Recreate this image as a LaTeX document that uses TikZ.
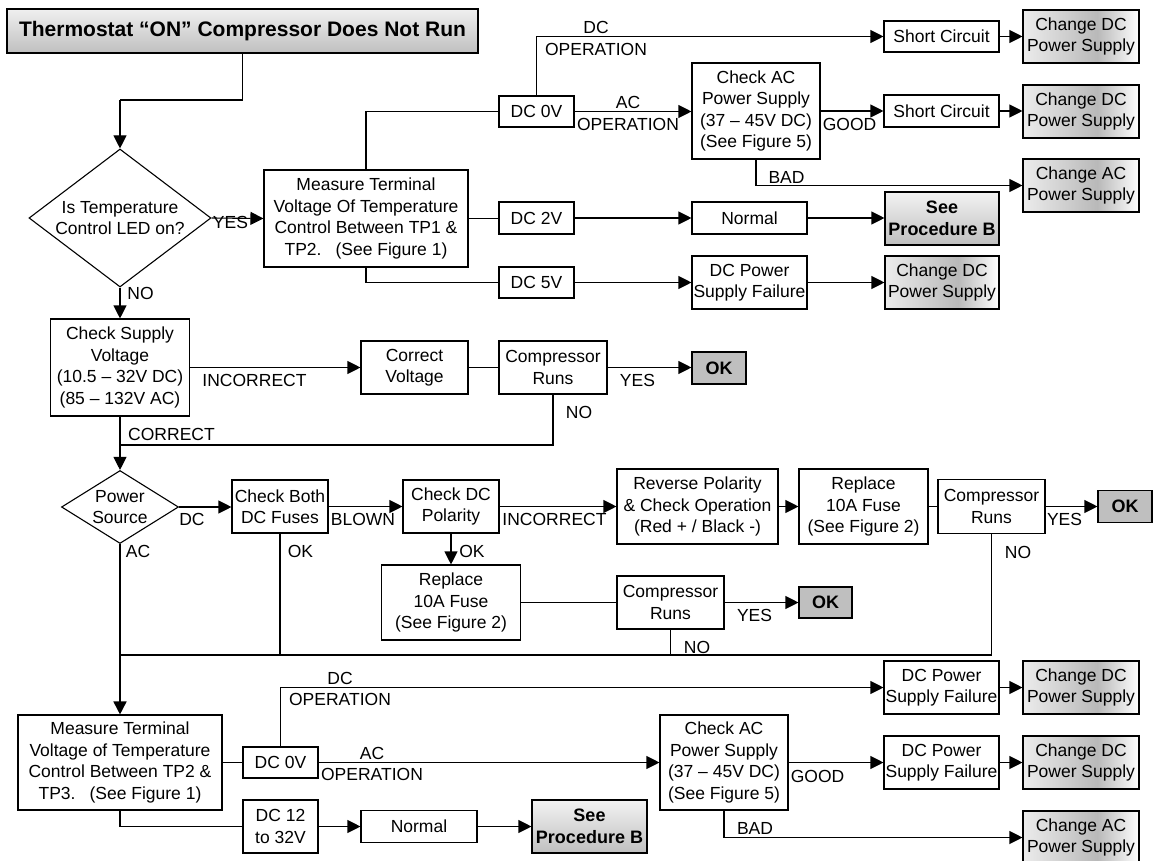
\documentclass[tikz,border=0pt]{standalone}
\usepackage{fontspec}
\setmainfont{Liberation Sans}
\usetikzlibrary{arrows.meta,shapes.geometric}
\pgfdeclarehorizontalshading{chgshade}{100bp}{color(0bp)=(gray!15); color(25bp)=(gray!15); color(57bp)=(gray!55); color(75bp)=(white); color(100bp)=(white)}
\begin{document}
\begin{tikzpicture}[x=1pt,y=-1pt,
  every node/.style={font=\fontsize{17.5}{21.5}\selectfont, inner sep=0pt, align=center},
  ln/.style={line width=1.1pt},
  arr/.style={line width=1.1pt, -{Triangle[length=13pt,width=13pt]}},
  box/.style={draw, line width=1.1pt, fill=white},
  sz/.style n args={2}{minimum width=#1pt, minimum height=#2pt},
  dia/.style={draw, line width=1.1pt, diamond, fill=white},
  ttl/.style={draw, line width=1.1pt, top color=gray!12, bottom color=gray!50, font=\fontsize{21}{25}\selectfont\bfseries},
  spb/.style={draw, line width=1.1pt, top color=gray!10, bottom color=gray!50, font=\fontsize{18}{22}\selectfont\bfseries},
  okb/.style={draw, line width=1.1pt, fill=gray!50, font=\fontsize{18}{22}\selectfont\bfseries},
  chg/.style={draw, line width=1.1pt, shading=chgshade},
]
\useasboundingbox (0,0) rectangle (1154,861);

% nodes
\node[ttl, sz={471}{44}] (title) at (242.5,31) {Thermostat “ON” Compressor Does Not Run};
\node[dia, sz={182}{138}] (d1) at (120,218) {};
\node (d1t) at (d1) {Is Temperature\\Control LED on?};
\node[box, sz={204}{97}] (m1) at (366,218.5) {Measure Terminal\\Voltage Of Temperature\\Control Between TP1 \&\\TP2.\hspace{14pt}(See Figure 1)};
\node[box, sz={75}{31}] (dc0a) at (536.5,111.5) {DC 0V};
\node[box, sz={128}{96}] (chkac1) at (756,111) {Check AC\\Power Supply\\(37 – 45V DC)\\(See Figure 5)};
\node[box, sz={115}{31}] (sc1) at (941.5,36.5) {Short Circuit};
\node[box, sz={115}{32}] (sc2) at (941.5,111) {Short Circuit};
\node[chg, sz={116}{53}] (cdc1) at (1081,36.5) {Change DC\\Power Supply};
\node[chg, sz={116}{53}] (cdc2) at (1081,111.5) {Change DC\\Power Supply};
\node[chg, sz={116}{53}] (cac1) at (1081,185.5) {Change AC\\Power Supply};
\node[box, sz={75}{32}] (dc2v) at (536.5,218) {DC 2V};
\node[box, sz={115}{32}] (norm1) at (749.5,218) {Normal};
\node[spb, sz={114}{53}] (spb1) at (942,218.5) {See\\Procedure B};
\node[box, sz={75}{31}] (dc5v) at (536.5,282.5) {DC 5V};
\node[box, sz={115}{53}] (psf1) at (749.5,282.5) {DC Power\\Supply Failure};
\node[chg, sz={114}{53}] (cdc3) at (942,282.5) {Change DC\\Power Supply};
\node[box, sz={139}{97}] (chks) at (120,367.5) {Check Supply\\Voltage\\(10.5 – 32V DC)\\(85 – 132V AC)};
\node[box, sz={107}{53}] (cv) at (414.5,367.5) {Correct\\Voltage};
\node[box, sz={108}{53}] (cr1) at (553,367.5) {Compressor\\Runs};
\node[okb, sz={54}{32}] (ok1) at (719,368) {OK};
\node[dia, sz={117}{73}] (d2) at (120,507) {};
\node (d2t) at (d2) {Power\\Source};
\node[box, sz={96}{53}] (cbf) at (280,506.5) {Check Both\\DC Fuses};
\node[box, sz={96}{53}] (cdp) at (451,506.5) {Check DC\\Polarity};
\node[box, sz={161}{75}] (rp) at (697.5,506.5) {Reverse Polarity\\\& Check Operation\\(Red + / Black -)};
\node[box, sz={129}{75}] (rf2) at (863.5,506.5) {Replace\\10A Fuse\\(See Figure 2)};
\node[box, sz={107}{54}] (cr3) at (991.5,506.5) {Compressor\\Runs};
\node[okb, sz={54}{32}] (ok3) at (1125,506.5) {OK};
\node[box, sz={139}{75}] (rf1) at (451,602.5) {Replace\\10A Fuse\\(See Figure 2)};
\node[box, sz={107}{53}] (cr2) at (670.5,602.5) {Compressor\\Runs};
\node[okb, sz={53}{31}] (ok2) at (825.5,602.5) {OK};
\node[box, sz={204}{95}] (m2) at (120,762.5) {Measure Terminal\\Voltage of Temperature\\Control Between TP2 \&\\TP3.\hspace{14pt}(See Figure 1)};
\node[box, sz={75}{31}] (dc0b) at (280.5,762.5) {DC 0V};
\node[box, sz={128}{95}] (chkac2) at (724,762.5) {Check AC\\Power Supply\\(37 – 45V DC)\\(See Figure 5)};
\node[box, sz={115}{53}] (psf2) at (941.5,687.5) {DC Power\\Supply Failure};
\node[chg, sz={116}{53}] (cdc4) at (1081,687.5) {Change DC\\Power Supply};
\node[box, sz={115}{53}] (psf3) at (941.5,762.5) {DC Power\\Supply Failure};
\node[chg, sz={116}{53}] (cdc5) at (1081,762.5) {Change DC\\Power Supply};
\node[chg, sz={116}{53}] (cac2) at (1081,837.5) {Change AC\\Power Supply};
\node[box, sz={75}{53}] (dc12) at (280.5,826.5) {DC 12\\to 32V};
\node[box, sz={116}{32}] (norm2) at (419,826.5) {Normal};
\node[spb, sz={115}{53}] (spb2) at (589.5,826.5) {See\\Procedure B};

% connectors
\coordinate (j1) at (120,100);
\draw[ln] (title.south) |- (j1);
\draw[arr] (j1) -- (d1.north);
\draw[arr] (d1.east) -- (m1.west);
\draw[ln] (m1.north) |- (dc0a.west);
\draw[arr] (dc0a.north) |- (sc1.west);
\draw[arr] (dc0a.east) -- (dc0a.east -| chkac1.west);
\draw[arr] (chkac1.east) -- (chkac1.east -| sc2.west);
\draw[arr] (sc1.east) -- (cdc1.west);
\draw[arr] (sc2.east) -- (sc2.east -| cdc2.west);
\draw[arr] (chkac1.south) |- (cac1.west);
\draw[ln] (m1.east) -- (m1.east -| dc2v.west);
\draw[arr] (dc2v.east) -- (norm1.west);
\draw[arr] (norm1.east) -- (norm1.east -| spb1.west);
\draw[ln] (m1.south) |- (dc5v.west);
\draw[arr] (dc5v.east) -- (psf1.west);
\draw[arr] (psf1.east) -- (cdc3.west);
\draw[arr] (d1.south) -- (chks.north);
\draw[arr] (chks.east) -- (cv.west);
\draw[ln] (cv.east) -- (cr1.west);
\draw[arr] (cr1.east) -- (cr1.east -| ok1.west);
\coordinate (j2) at (120,445);
\draw[ln] (cr1.south) |- (j2);
\draw[arr] (chks.south) -- (d2.north);
\draw[arr] (d2.east) -- (d2.east -| cbf.west);
\draw[arr] (cbf.east) -- (cdp.west);
\draw[arr] (cdp.east) -- (cdp.east -| rp.west);
\draw[arr] (rp.east) -- (rf2.west);
\draw[ln] (rf2.east) -- (rf2.east -| cr3.west);
\draw[arr] (cr3.east) -- (ok3.west);
\draw[arr] (cdp.south) -- (rf1.north);
\draw[ln] (rf1.east) -- (cr2.west);
\draw[arr] (cr2.east) -- (ok2.west);
\coordinate (j3) at (120,655);
\draw[ln] (cr3.south) |- (j3);
\draw[ln] (cr2.south) -- (cr2.south |- j3);
\draw[ln] (cbf.south) -- (cbf.south |- j3);
\draw[ln] (d2.south) -- (j3);
\draw[arr, line width=1.7pt] (j3) -- (m2.north);
\draw[ln] (m2.east) -- (m2.east -| dc0b.west);
\draw[arr] (dc0b.north) |- (psf2.west);
\draw[arr] (dc0b.east) -- (dc0b.east -| chkac2.west);
\draw[arr] (chkac2.east) -- (chkac2.east -| psf3.west);
\draw[arr] (psf2.east) -- (cdc4.west);
\draw[arr] (psf3.east) -- (cdc5.west);
\draw[arr] (chkac2.south) |- (cac2.west);
\draw[ln] (m2.south) |- (dc12.west);
\draw[arr] (dc12.east) -- (dc12.east -| norm2.west);
\draw[arr] (norm2.east) -- (norm2.east -| spb2.west);

% labels
\node (l1) at (596,38.5) {DC\\OPERATION};
\node (l2) at (628,113.5) {AC\\OPERATION};
\node (l3) at (849.5,124) {GOOD};
\node (l4) at (786.5,177) {BAD};
\node (l5) at (230.5,222) {YES};
\node (l6) at (140.5,293) {NO};
\node (l7) at (254.5,380) {INCORRECT};
\node (l8) at (637.5,380) {YES};
\node (l9) at (579,412) {NO};
\node (l10) at (171.5,434) {CORRECT};
\node (l11) at (192,519) {DC};
\node (l12) at (138,551) {AC};
\node (l13) at (300.5,551) {OK};
\node (l14) at (363,519) {BLOWN};
\node (l15) at (554.5,519) {INCORRECT};
\node (l16) at (472,551) {OK};
\node (l17) at (1064.5,519) {YES};
\node (l18) at (1018,552) {NO};
\node (l19) at (754.5,615) {YES};
\node (l20) at (697,647) {NO};
\node (l21) at (340,689) {DC\\OPERATION};
\node (l22) at (372,764) {AC\\OPERATION};
\node (l23) at (817.5,776) {GOOD};
\node (l24) at (755,828) {BAD};
\end{tikzpicture}
\end{document}
